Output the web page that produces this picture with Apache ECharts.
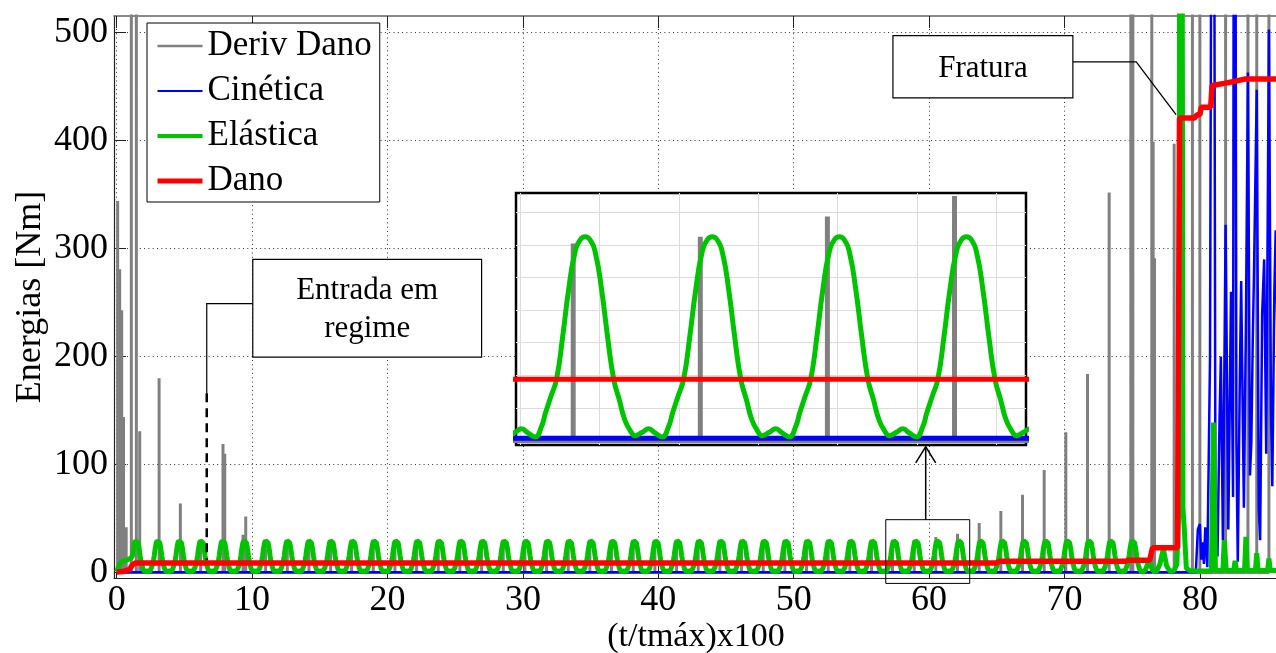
<!DOCTYPE html>
<html>
<head>
<meta charset="utf-8">
<script src="https://cdn.jsdelivr.net/npm/echarts@6/dist/echarts.min.js"></script>
<style>
  html, body { margin: 0; padding: 0; background: #fff; }
  #c { width: 1276px; height: 653px; }
</style>
</head>
<body>
<div id="c"></div>
<script>
// ---- axis ticks ----
const xTicks = [0, 10, 20, 30, 40, 50, 60, 70, 80];
const yTicks = [0, 100, 200, 300, 400, 500];
const insetGridX = [56.63, 57.63, 58.63, 59.63, 60.63, 61.63, 62.63];
const insetGridY = [4.8, 9.6, 14.4, 19.2, 24, 28.8, 33.6];

// ---- Deriv Dano: instants of the damage-rate pulses and their heights [Nm] ----
const derivT = [0.07, 0.22, 0.37, 0.5, 0.7, 1.08, 1.45, 1.7, 3.13, 4.7, 6.2, 7.85, 7.98, 9.33, 9.53,
  11.0, 12.6, 14.2, 15.8, 17.35, 18.95, 20.55, 22.15, 23.75, 25.35, 26.95, 28.55, 30.15, 31.75,
  33.35, 34.95, 36.55, 38.15, 39.75, 41.35, 42.95, 44.55, 46.15, 47.75, 49.35, 50.95, 52.55,
  54.15, 55.75, 57.3, 58.9, 60.5, 62.1, 63.7, 65.3, 66.9, 68.5, 70.1, 71.7, 73.3, 74.9, 75.05,
  76.45, 76.55, 76.65, 78.1, 79.45, 80.0, 81.9, 83.55, 84.2, 85.1];
const derivE = [344, 281, 243, 144, 42, 1200, 1200, 131, 180, 64, 25, 119, 110, 35, 52,
  22, 24, 25, 23, 26, 24, 27, 25, 26, 24, 27, 26, 25, 27,
  26, 28, 27, 26, 28, 27, 28, 29, 27, 28, 29, 28, 30,
  29, 28, 29, 30, 33, 36, 46, 57, 72, 95, 130, 184, 352, 1200, 1200,
  1200, 399, 291, 397, 1200, 1200, 1200, 1200, 1200, 1200];

// ---- Cinética ----
const cineticaT = [0, 79.7, 79.85, 80.0, 80.1, 80.2, 80.3, 80.4, 80.55, 80.75, 80.97, 81.15, 81.3, 81.45,
  81.55, 81.7, 81.9, 82.1, 82.3, 82.45, 82.55, 82.7, 82.8, 82.95, 83.05, 83.25, 83.4, 83.55, 83.7,
  83.8, 83.9, 84.0, 84.2, 84.35, 84.45, 84.6, 84.75, 84.9, 85.1, 85.25, 85.35, 85.5, 85.6, 85.75];
const cineticaE = [0.3, 0.3, 40, 45, 12, 28, 8, 42, 5, 200, 1200, 60, 15, 140,
  200, 30, 322, 40, 260, 70, 1200, 120, 10, 180, 270, 60, 230, 463, 90,
  120, 210, 280, 447, 60, 30, 240, 290, 110, 503, 150, 80, 260, 317, 200];

// ---- Elástica ----
// start-up before the first oscillation
const elasticaStartT = [0, 0.15, 0.35, 0.6, 0.9, 1.05];
const elasticaStartE = [1, 6, 10, 11, 12.5, 13.5];
// instants of the oscillation peaks
const elasticaPeakT = [1.45, 3.05, 4.65, 6.25, 7.85, 9.45, 11.05, 12.65, 14.25, 15.85, 17.45, 19.05,
  20.65, 22.25, 23.85, 25.45, 27.05, 28.65, 30.25, 31.85, 33.45, 35.05, 36.65, 38.25, 39.85, 41.45,
  43.05, 44.65, 46.25, 47.85, 49.45, 51.05, 52.65, 54.25, 55.85, 57.45, 59.05, 60.65, 62.25, 63.85,
  65.45, 67.05, 68.65, 70.25, 71.85, 73.45, 75.05];
// one oscillation around its peak: time offset and energy
const elasticaCycleDt = [-0.80, -0.72, -0.63, -0.55, -0.50, -0.43, -0.36, -0.28, -0.21, -0.13, -0.06, 0,
  0.06, 0.13, 0.21, 0.28, 0.36, 0.43, 0.50, 0.57, 0.63, 0.72];
const elasticaCycleE = [1.7, 1.1, 0.5, 2.0, 4.0, 6.5, 9.0, 15.5, 22.0, 27.6, 29.6, 30,
  29.6, 27.6, 22.0, 15.5, 9.0, 6.0, 3.0, 1.4, 0.7, 1.2];
// after the regular regime, up to fracture and beyond
const elasticaTailT = [75.85, 76.0, 76.25, 76.5, 76.8, 77.05, 77.3, 77.55, 77.8, 78.1, 78.3, 78.45, 78.6,
  78.75, 78.85, 79.0, 79.3, 80.85, 81.0, 81.15, 81.7, 81.8, 81.95, 82.5, 82.6, 82.7, 83.3, 83.4, 83.5,
  84.1, 84.2, 84.3, 85.0, 85.1, 85.2, 85.75];
const elasticaTailE = [1.0, 3, 12, 2, 1, 8, 22, 6, 1, 2, 8, 60, 1500,
  60, 40, 4, 1.5, 1.5, 139, 2, 2, 30, 2, 2, 11, 2, 2, 33, 2,
  2, 18, 2, 2, 13, 2, 2];

// ---- Dano ----
const danoT = [0, 0.45, 0.55, 0.95, 1.15, 1.4, 65.0, 65.2, 74.5, 74.7, 76.3, 76.5, 78.35, 78.5,
  79.6, 79.8, 80.0, 80.1, 80.8, 80.9, 81.8, 82.6, 83.3, 85.75];
const danoE = [0.5, 1, 2.5, 3, 7, 9, 9, 10.5, 10.5, 11.5, 11.5, 23, 23, 421,
  421, 424, 424, 431, 431, 451, 453, 455, 457, 457];

// ---- build series data ----
const pairs = (ts, es) => ts.map((t, i) => [t, es[i]]);

// each pulse drawn as a vertical stroke from zero to its height
const derivData = [];
derivT.forEach((t, i) => { derivData.push([t, 0], [t, derivE[i]], [t, 0]); });

const elasticaData = pairs(elasticaStartT, elasticaStartE);
elasticaPeakT.forEach((p, k) => {
  elasticaCycleDt.forEach((d, j) => {
    if (k === 0 && d < -0.3) return;
    elasticaData.push([+(p + d).toFixed(3), elasticaCycleE[j]]);
  });
});
elasticaData.push(...pairs(elasticaTailT, elasticaTailE));

const cineticaData = pairs(cineticaT, cineticaE);
const danoData = pairs(danoT, danoE);

// ---- colours ----
const C_DERIV = '#808080', C_CIN = '#0000ff', C_ELA = '#00c400', C_DANO = '#ff0000';
const SERIF = '"Liberation Serif", "Times New Roman", serif';

const chart = echarts.init(document.getElementById('c'), null, { renderer: 'canvas' });

const mainAxisCommon = {
  type: 'value',
  gridIndex: 0,
  axisTick: { show: true, inside: true, length: 12, customValues: xTicks, lineStyle: { color: '#222', width: 1 } },
};
const hiddenMarker = { opacity: 0 };

const option = {
  animation: false,
  backgroundColor: '#fff',
  grid: [
    { left: 114, top: 16, width: 1164, height: 562, outerBoundsMode: 'none', containLabel: false },
    { left: 516, top: 193, width: 510, height: 252, show: true, backgroundColor: '#fff',
      borderColor: '#000', borderWidth: 2.5, z: 10, outerBoundsMode: 'none', containLabel: false }
  ],
  legend: {
    orient: 'vertical', left: 147, top: 23, padding: [3, 8, 1, 8], itemGap: 5,
    itemWidth: 45, itemHeight: 14, backgroundColor: '#fff', borderColor: '#000', borderWidth: 1,
    z: 20,
    textStyle: { fontFamily: SERIF, fontSize: 35, color: '#000', lineHeight: 40 },
    data: [
      { name: 'Deriv Dano', lineStyle: { width: 2.5 }, itemStyle: hiddenMarker },
      { name: 'Cinética', lineStyle: { width: 2 }, itemStyle: hiddenMarker },
      { name: 'Elástica', lineStyle: { width: 4 }, itemStyle: hiddenMarker },
      { name: 'Dano', lineStyle: { width: 5 }, itemStyle: hiddenMarker }
    ]
  },
  xAxis: [
    Object.assign({}, mainAxisCommon, {
      position: 'bottom', min: -0.2, max: 85.77,
      name: '(t/tmáx)x100', nameLocation: 'middle', nameGap: 42, nameMoveOverlap: false,
      nameTextStyle: { fontFamily: SERIF, fontSize: 34, color: '#000' },
      axisLine: { show: true, onZero: false, lineStyle: { color: '#222', width: 1.2 } },
      axisLabel: { show: true, customValues: xTicks, margin: 5, fontFamily: SERIF, fontSize: 36, color: '#000' },
      splitLine: { show: true, lineStyle: { color: '#333', width: 1, type: [1, 3.3] } }
    }),
    Object.assign({}, mainAxisCommon, {
      position: 'top', min: -0.2, max: 85.77,
      axisLine: { show: true, onZero: false, lineStyle: { color: '#666', width: 1.5 } },
      axisLabel: { show: false },
      splitLine: { show: false }
    }),
    {
      type: 'value', gridIndex: 1, min: 56.58, max: 63.0, z: 11,
      axisLine: { show: false }, axisLabel: { show: false },
      axisTick: { show: false, customValues: insetGridX },
      splitLine: { show: true, lineStyle: { color: '#dcdcdc', width: 1 } }
    }
  ],
  yAxis: [
    {
      type: 'value', gridIndex: 0, position: 'left', min: -5, max: 515.4,
      name: 'Energias [Nm]', nameLocation: 'middle', nameGap: 65, nameRotate: 90, nameMoveOverlap: false,
      nameTextStyle: { fontFamily: SERIF, fontSize: 36, color: '#000' },
      axisLine: { show: true, onZero: false, lineStyle: { color: '#222', width: 1.2 } },
      axisTick: { show: true, inside: true, length: 12, customValues: yTicks, lineStyle: { color: '#222', width: 1 } },
      axisLabel: { show: true, customValues: yTicks, margin: 6, fontFamily: SERIF, fontSize: 36, color: '#000' },
      splitLine: { show: true, lineStyle: { color: '#333', width: 1, type: [1, 3.3] } }
    },
    {
      type: 'value', gridIndex: 1, min: -0.68, max: 36.45, z: 11,
      axisLine: { show: false }, axisLabel: { show: false },
      axisTick: { show: false, customValues: insetGridY },
      splitLine: { show: true, lineStyle: { color: '#dcdcdc', width: 1 } }
    }
  ],
  series: [
    // main plot
    { name: 'Deriv Dano', type: 'line', xAxisIndex: 0, yAxisIndex: 0, data: derivData, symbol: 'none',
      color: C_DERIV, lineStyle: { color: C_DERIV, width: 3 }, silent: true, clip: true },
    { name: 'Cinética', type: 'line', xAxisIndex: 0, yAxisIndex: 0, data: cineticaData, symbol: 'none',
      color: C_CIN, lineStyle: { color: C_CIN, width: 2.5 }, silent: true, clip: true },
    { name: 'Elástica', type: 'line', xAxisIndex: 0, yAxisIndex: 0, data: elasticaData, symbol: 'none',
      color: C_ELA, lineStyle: { color: C_ELA, width: 5 }, silent: true, clip: true },
    { name: 'Dano', type: 'line', xAxisIndex: 0, yAxisIndex: 0, data: danoData, symbol: 'none',
      color: C_DANO, lineStyle: { color: C_DANO, width: 5.5 }, silent: true, clip: true },
    // magnified window
    { name: 'Deriv Dano', type: 'line', xAxisIndex: 2, yAxisIndex: 1, data: derivData, symbol: 'none', z: 12,
      color: C_DERIV, lineStyle: { color: C_DERIV, width: 5 }, silent: true, clip: true },
    { name: 'Cinética', type: 'line', xAxisIndex: 2, yAxisIndex: 1, data: cineticaData, symbol: 'none', z: 12,
      color: C_CIN, lineStyle: { color: C_CIN, width: 5 }, silent: true, clip: true },
    { name: 'Elástica', type: 'line', xAxisIndex: 2, yAxisIndex: 1, data: elasticaData, symbol: 'none', z: 12,
      smooth: true, color: C_ELA, lineStyle: { color: C_ELA, width: 5 }, silent: true, clip: true },
    { name: 'Dano', type: 'line', xAxisIndex: 2, yAxisIndex: 1, data: danoData, symbol: 'none', z: 12,
      color: C_DANO, lineStyle: { color: C_DANO, width: 5 }, silent: true, clip: true }
  ]
};

chart.setOption(option);

// ---- annotations placed in data coordinates of the main plot ----
const px = (x, y) => chart.convertToPixel({ xAxisIndex: 0, yAxisIndex: 0 }, [x, y]);
const ANN_FONT = '31px ' + SERIF;

function box(x0, y0, x1, y1) {
  const a = px(x0, y0), b = px(x1, y1);
  return { type: 'rect', z: 20, silent: true,
    shape: { x: Math.min(a[0], b[0]), y: Math.min(a[1], b[1]), width: Math.abs(b[0] - a[0]), height: Math.abs(b[1] - a[1]) },
    style: { fill: '#fff', stroke: '#000', lineWidth: 1.2 } };
}
function label(text, x0, y0, x1, y1) {
  const a = px(x0, y0), b = px(x1, y1);
  return { type: 'text', z: 21, silent: true,
    style: { text: text, x: (a[0] + b[0]) / 2, y: (a[1] + b[1]) / 2 + 2, font: ANN_FONT, fill: '#000',
      textAlign: 'center', textVerticalAlign: 'middle', align: 'center', verticalAlign: 'middle', lineHeight: 38 } };
}
function poly(points, width, dash) {
  return { type: 'polyline', z: 20, silent: true,
    shape: { points: points.map(p => px(p[0], p[1])) },
    style: { fill: null, stroke: '#000', lineWidth: width, lineDash: dash || null } };
}

const tip = px(59.75, 116.5);
const zoomRectA = px(56.8, 49), zoomRectB = px(63.0, -10);

const graphics = [
  // "Entrada em regime"
  poly([[10.05, 249], [6.65, 249], [6.65, 166]], 1.2),
  poly([[6.65, 166], [6.65, 12]], 2.5, [9, 6]),
  box(10.05, 290, 26.95, 199.5),
  label('Entrada em\nregime', 10.05, 290, 26.95, 199.5),
  // "Fratura"
  poly([[70.62, 473], [75.3, 473], [78.24, 424]], 1.3),
  box(57.33, 497.2, 70.62, 439.5),
  label('Fratura', 57.33, 497.2, 70.62, 439.5),
  // magnified window marker and arrow
  { type: 'rect', z: 20, silent: true,
    shape: { x: zoomRectA[0], y: zoomRectA[1], width: zoomRectB[0] - zoomRectA[0], height: zoomRectB[1] - zoomRectA[1] },
    style: { fill: null, stroke: '#000', lineWidth: 1 } },
  poly([[59.75, 49], [59.75, 116.5]], 1.5),
  { type: 'polyline', z: 20, silent: true,
    shape: { points: [[tip[0] - 10, tip[1] + 16], tip, [tip[0] + 10, tip[1] + 16]] },
    style: { fill: null, stroke: '#000', lineWidth: 1.5 } }
];

chart.setOption({ graphic: graphics });
</script>
</body>
</html>
